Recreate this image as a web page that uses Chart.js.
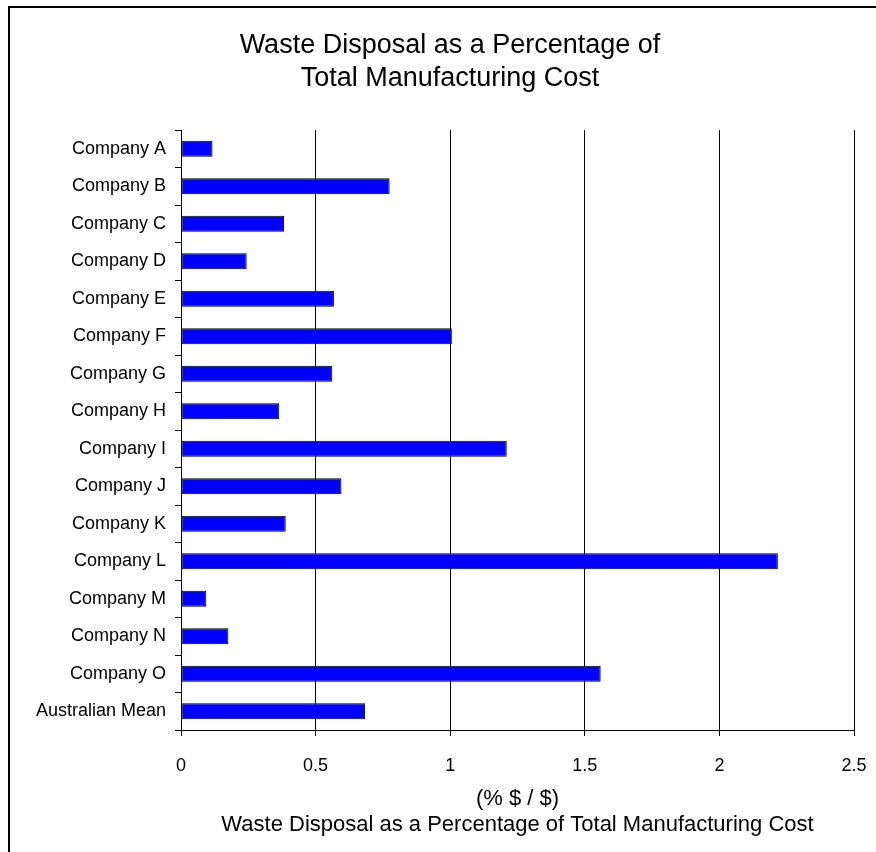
<!DOCTYPE html>
<html>
<head>
<meta charset="utf-8">
<script src="https://cdn.jsdelivr.net/npm/chart.js@4.4.1/dist/chart.umd.min.js"></script>
<style>
  html, body { margin: 0; padding: 0; background: #ffffff; }
  #wrap { width: 876px; height: 852px; position: relative; }
</style>
</head>
<body>
<div id="wrap"><canvas id="c" width="876" height="852"></canvas></div>
<script>
// Companies and their waste-disposal share of total manufacturing cost
const categories = [
  'Company A', 'Company B', 'Company C', 'Company D', 'Company E',
  'Company F', 'Company G', 'Company H', 'Company I', 'Company J',
  'Company K', 'Company L', 'Company M', 'Company N', 'Company O',
  'Australian Mean'
];
const wastePercent = [
  0.117, 0.775, 0.383, 0.244, 0.568,
  1.006, 0.562, 0.365, 1.21, 0.596,
  0.389, 2.217, 0.094, 0.176, 1.559,
  0.684
];
const xTicks = [0, 0.5, 1, 1.5, 2, 2.5];
const chartTitle = ['Waste Disposal as a Percentage of', 'Total Manufacturing Cost'];
const axisTitle = ['(% $ / $)', 'Waste Disposal as a Percentage of Total Manufacturing Cost'];

const FONT = '"Liberation Sans", Arial, sans-serif';

// Outer frame and the two-line heading
const framePlugin = {
  id: 'frame',
  beforeDraw(chart) {
    const ctx = chart.ctx;
    ctx.save();
    ctx.fillStyle = '#ffffff';
    ctx.fillRect(0, 0, chart.width, chart.height);
    ctx.strokeStyle = '#000000';
    ctx.lineWidth = 2;
    ctx.strokeRect(9, 7, chart.width + 20, chart.height + 20);
    ctx.restore();
  },
  afterDraw(chart) {
    const ctx = chart.ctx;
    ctx.save();
    ctx.fillStyle = '#000000';
    ctx.font = '27px ' + FONT;
    ctx.textAlign = 'center';
    ctx.textBaseline = 'middle';
    chartTitle.forEach((line, i) => ctx.fillText(line, 450, 46 + i * 33));
    ctx.restore();
  }
};

new Chart(document.getElementById('c'), {
  type: 'bar',
  data: {
    labels: categories,
    datasets: [{
      data: wastePercent,
      backgroundColor: '#0000FF',
      borderColor: '#000000',
      borderWidth: 1,
      borderSkipped: false,
      barPercentage: 0.43,
      categoryPercentage: 1.0
    }]
  },
  options: {
    indexAxis: 'y',
    responsive: false,
    animation: false,
    devicePixelRatio: 1,
    layout: { padding: { top: 130, right: 22, bottom: 0, left: 0 } },
    plugins: {
      legend: { display: false },
      title: { display: false },
      tooltip: { enabled: false }
    },
    scales: {
      x: {
        type: 'linear',
        min: 0,
        max: 2.5,
        afterBuildTicks(scale) { scale.ticks = xTicks.map(v => ({ value: v })); },
        afterFit(scale) {
          scale.height = 122;
          scale.paddingLeft = 0;
          scale.paddingRight = 0;
        },
        ticks: {
          color: '#000000',
          font: { family: FONT, size: 18 },
          padding: 19,
          maxRotation: 0,
          callback: v => String(v)
        },
        grid: {
          color: '#000000',
          lineWidth: 1,
          drawOnChartArea: true,
          drawTicks: true,
          tickLength: 6
        },
        border: { display: true, color: '#000000', width: 1 },
        title: {
          display: true,
          text: axisTitle,
          color: '#000000',
          font: { family: FONT, size: 22, lineHeight: 1.18 },
          padding: { top: 4, bottom: 14 }
        }
      },
      y: {
        afterFit(scale) { scale.width = 181; },
        ticks: {
          color: '#000000',
          font: { family: FONT, size: 18 },
          padding: 9
        },
        grid: {
          offset: true,
          drawOnChartArea: false,
          drawTicks: true,
          tickLength: 6,
          color: '#000000'
        },
        border: { display: true, color: '#000000', width: 1 }
      }
    }
  },
  plugins: [framePlugin]
});
</script>
</body>
</html>
